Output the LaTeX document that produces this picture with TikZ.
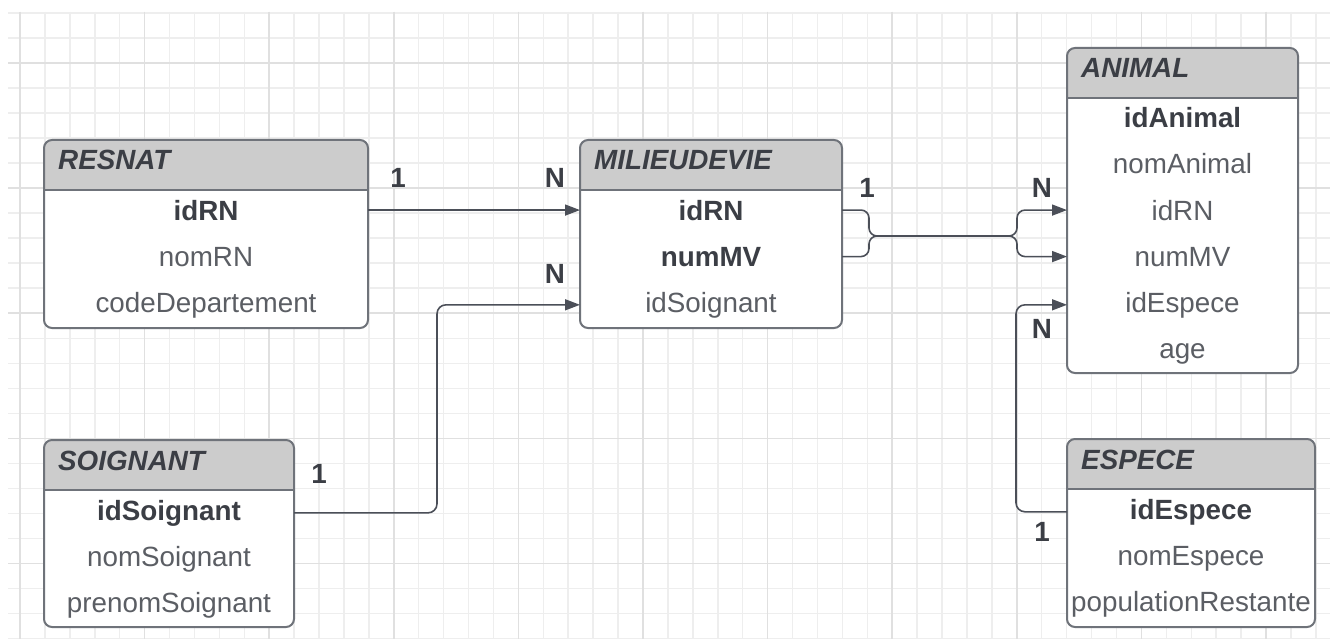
\documentclass[tikz,border=0pt]{standalone}
\usepackage{fontspec}
\setmainfont{Liberation Sans}
\usetikzlibrary{arrows.meta}

\definecolor{gridlight}{HTML}{EEEEEE}
\definecolor{gridmajor}{HTML}{E0E0E0}
\definecolor{boxline}{HTML}{6F737A}
\definecolor{headfill}{HTML}{CCCCCC}
\definecolor{darkink}{HTML}{3B3E45}
\definecolor{fieldink}{HTML}{5B5E64}
\definecolor{linkink}{HTML}{4B4F58}

\begin{document}
\begin{tikzpicture}[x=1pt, y=-1pt,
  entity/.style={fill=white, anchor=north west, inner sep=0pt, outer sep=0pt, rounded corners=8pt},
  boxframe/.style={draw=boxline, line width=2pt, rounded corners=8pt},
  hdrtext/.style={font=\fontsize{27.8}{32}\selectfont\bfseries\itshape, text=darkink, anchor=base west, inner sep=0pt},
  attr/.style={font=\fontsize{27.8}{32}\selectfont, text=fieldink, anchor=base},
  keyattr/.style={attr, font=\fontsize{27.8}{32}\selectfont\bfseries, text=darkink},
  card/.style={font=\fontsize{27.8}{32}\selectfont\bfseries, text=darkink, anchor=base},
  link/.style={draw=linkink, line width=1.6pt, rounded corners=9pt, -{Triangle[length=15pt, width=11pt]}}
]
\useasboundingbox (0,0) rectangle (1330,639);
\fill[white] (0,0) rectangle (1330,639);

% background grid, a darker line every fifth cell
\begin{scope}
  \clip (8,12) rectangle (1330,639);
  \foreach \k in {0,...,52}
    \draw[gridlight, line width=1.5pt] ({20+24.92*\k},12) -- ({20+24.92*\k},639);
  \foreach \j in {0,...,25}
    \draw[gridlight, line width=1.5pt] (8,{13+25.02*\j}) -- (1330,{13+25.02*\j});
  \foreach \k in {0,5,...,50}
    \draw[gridmajor, line width=1.5pt] ({20+24.92*\k},12) -- ({20+24.92*\k},639);
  \foreach \j in {2,7,...,22}
    \draw[gridmajor, line width=1.5pt] (8,{13+25.02*\j}) -- (1330,{13+25.02*\j});
\end{scope}

% entities: box, grey header, name
\foreach \tname/\x/\y/\w/\h/\ttl in {resnat/44/140/324/188/RESNAT,
    milieu/580/140/262/188/MILIEUDEVIE, animal/1067/48/231/325/ANIMAL,
    soignant/44/440/250/187/SOIGNANT, espece/1067/439/248/188/ESPECE} {
  \node[entity, minimum width=\w pt, minimum height=\h pt] (\tname) at (\x,\y) {};
  \fill[headfill, rounded corners=8pt] (\x,\y) rectangle ({\x+\w},{\y+50});
  \fill[headfill] (\x,{\y+40}) rectangle ({\x+\w},{\y+50});
  \draw[boxline, line width=2pt] (\x,{\y+50}) -- ({\x+\w},{\y+50});
  \draw[boxframe] (\tname.north west) rectangle (\tname.south east);
  \node[hdrtext] (\tname-name) at ({\x+14},{\y+30}) {\ttl};
}

% attributes, keys in bold
\foreach \tname/\row/\fld/\kind in {
    resnat/0/idRN/keyattr, resnat/1/nomRN/attr, resnat/2/codeDepartement/attr,
    milieu/0/idRN/keyattr, milieu/1/numMV/keyattr, milieu/2/idSoignant/attr,
    animal/0/idAnimal/keyattr, animal/1/nomAnimal/attr, animal/2/idRN/attr,
    animal/3/numMV/attr, animal/4/idEspece/attr, animal/5/age/attr,
    soignant/0/idSoignant/keyattr, soignant/1/nomSoignant/attr, soignant/2/prenomSoignant/attr,
    espece/0/idEspece/keyattr, espece/1/nomEspece/attr, espece/2/populationRestante/attr}
  \node[\kind] (\tname-\fld) at ([yshift=-80pt-\row*46pt]\tname.north) {\fld};

% links
\draw[link] (resnat-idRN -| resnat.east) -- (milieu-idRN -| milieu.west);
\draw[link] (soignant-idSoignant -| soignant.east)
  -| ([xshift=-143pt]milieu-idSoignant -| milieu.west) -- (milieu-idSoignant -| milieu.west);

\coordinate (mergeL) at (869,236);
\coordinate (mergeR) at (1017,236);
\foreach \f in {idRN,numMV}
  \draw[link, rounded corners=8pt] (milieu-\f -| milieu.east) -| (mergeL) -- (mergeR) |- (animal-\f -| animal.west);

\coordinate (bendE) at (1016,400);
\draw[link] (espece-idEspece -| espece.west) -| (bendE) |- (animal-idEspece -| animal.west);

% cardinalities
\node[card] (card-rn1) at (398,188) {1};
\node[card] (card-rnN) at (555,188) {N};
\node[card] (card-so1) at (319,483) {1};
\node[card] (card-soN) at (555,283) {N};
\node[card] (card-mv1) at (867,197) {1};
\node[card] (card-mvN) at (1042,197) {N};
\node[card] (card-esN) at (1042,338) {N};
\node[card] (card-es1) at (1042,541) {1};
\end{tikzpicture}
\end{document}
